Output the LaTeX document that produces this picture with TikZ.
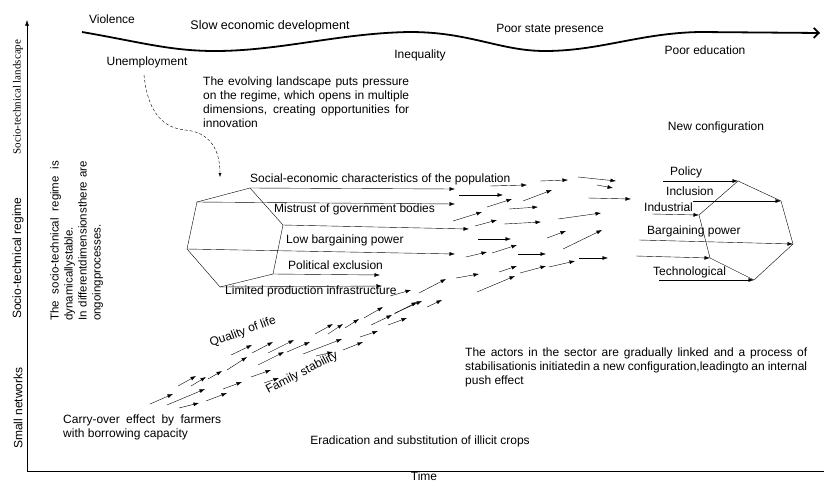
\documentclass[tikz,border=0pt]{standalone}
\usepackage{fontspec}
\setmainfont{Liberation Sans}
\newfontfamily\serifside{Liberation Serif}
\usetikzlibrary{arrows.meta,positioning}

\begin{document}
\begin{tikzpicture}[x=1pt,y=-1pt,
txt/.style={font=\fontsize{12}{14}\selectfont, inner sep=0pt},
para/.style={txt, align=justify, text width=#1},
flow/.style={arrows={-Latex[length=5.5pt,width=3.8pt]}},
sidelabel/.style={txt, rotate=90}]
\useasboundingbox (0,0) rectangle (824,482);
% Axes
\coordinate (origin) at (27,471);
\coordinate (ytop) at (27,20);
\coordinate (xend) at (824,471);
\draw[flow] (origin) -- (ytop);
\draw (origin) -- (xend);
\node[txt] (time) at (424,476) {Time};
\node[sidelabel, font=\serifside\fontsize{11}{13}\selectfont] (landscape) at (18,97) {Socio-technical landscape};
\node[sidelabel] (regime) at (18,258) {Socio-technical regime};
\node[sidelabel] (small) at (18,408) {Small networks};
\node[txt, font=\fontsize{11.5}{14}\selectfont, align=left, text width=160pt, rotate=90, anchor=north west] (stable) at (50,321)
  {The\hfill socio-technical\hfill regime\hfill is\\ dynamicallystable.\\ In differentdimensionsthere are\\ ongoingprocesses.};
% Landscape
\draw[line width=1.8pt, -{Straight Barb[length=5pt,width=10pt]}]
  (82,32) .. controls (140,42) and (170,51) .. (215,51)
  .. controls (280,51) and (340,33) .. (410,32)
  .. controls (470,32) and (500,51) .. (545,51)
  .. controls (600,51) and (640,33) .. (700,32) -- (820,33);
\node[txt] (violence) at (112,19) {Violence};
\node[txt, font=\fontsize{12.5}{14}\selectfont] (slow) at (270,26) {Slow economic development};
\node[txt] (unemp) at (147,62) {Unemployment};
\node[txt] (inequality) at (420,55) {Inequality};
\node[txt] (state) at (550,30) {Poor state presence};
\node[txt] (education) at (705,50) {Poor education};
\node[txt] (newconf) at (716,127) {New configuration};
\node[para=206pt, anchor=north west] (pressure) at (203,77)
  {The evolving landscape puts pressure\linebreak on the regime, which opens in multiple\linebreak dimensions, creating opportunities for\linebreak innovation};
\coordinate (press) at (220,177);
\draw[densely dashed, -{Latex[length=4pt,width=3pt]}] (144,75)
  .. controls (148,115) and (165,128) .. (185,130)
  .. controls (210,132) and (220,150) .. (press);
% Regime
\coordinate (r1) at (250,188);
\coordinate (r2) at (283,225);
\coordinate (r3) at (273,274);
\coordinate (r4) at (220,287);
\coordinate (r5) at (187,249);
\coordinate (r6) at (197,202);
\draw (r1) -- (r2) -- (r3) -- (r4) -- (r5) -- (r6) -- cycle;
\coordinate (e1) at (455,189);
\coordinate (e2) at (455,204);
\coordinate (e3) at (469,229);
\coordinate (e4) at (455,254);
\coordinate (e5) at (380,275);
\coordinate (e6) at (382,286);
\draw[flow] (r1) -- (e1);
\draw[flow] (r6) -- (e2);
\draw[flow] (r2) -- (e3);
\draw[flow] (r5) -- (e4);
\draw[flow] (r3) -- (e5);
\draw[flow] (r4) -- (e6);
\node[txt, anchor=west] (socio) at (250,179) {Social-economic characteristics of the population};
\node[txt, anchor=west] (mistrust) at (274,209) {Mistrust of government bodies};
\node[txt, anchor=west] (lowbp) at (286,240) {Low bargaining power};
\node[txt, anchor=west] (political) at (288,265) {Political exclusion};
\node[txt, anchor=west] (limited) at (225,291) {Limited production infrastructure};
% New configuration
\coordinate (c1) at (738,181);
\coordinate (c2) at (781,201);
\coordinate (c3) at (793,244);
\coordinate (c4) at (754,280);
\coordinate (c5) at (710,258);
\coordinate (c6) at (699,215);
\draw (c1) -- (c2) -- (c3) -- (c4) -- (c5) -- (c6) -- cycle;
\coordinate (s1) at (663,181);
\coordinate (s2) at (693,201);
\coordinate (s3) at (652,214);
\coordinate (s4) at (639,240);
\coordinate (s5) at (636,256);
\coordinate (s6) at (659,280);
\draw[flow] (s1) -- (c1);
\draw[flow] (s2) -- (c2);
\draw[flow] (s3) -- (c6);
\draw[flow] (s4) -- (c3);
\draw[flow] (s5) -- (c5);
\draw[flow] (s6) -- (c4);
\node[txt, anchor=west] (policy) at (670,172) {Policy};
\node[txt, anchor=west] (inclusion) at (666,191) {Inclusion};
\node[txt, anchor=west] (industrial) at (644,207) {Industrial};
\node[txt, anchor=west] (bargaining) at (647,231) {Bargaining power};
\node[txt, anchor=west] (techno) at (653,272) {Technological};
% Small networks
\foreach \xa/\ya/\xb/\yb in {150/404/173/394, 167/405/205/389, 179/408/199/403,
  206/401/227/393, 178/386/196/376, 191/386/206/377, 208/379/222/371,
  223/389/242/382, 227/370/247/357, 231/355/252/345, 252/353/273/342,
  268/353/294/340, 287/352/310/342, 258/365/284/352, 251/377/271/370,
  264/383/279/378, 303/354/342/339, 316/356/333/352, 343/350/363/342,
  360/337/378/331, 315/334/333/324, 328/334/343/324, 345/328/359/319,
  364/318/383/307, 371/325/392/315, 388/325/407/318, 394/314/417/302,
  390/296/411/290, 395/313/422/301, 419/293/446/279, 427/307/442/300,
  456/278/479/274, 477/292/515/276, 499/272/517/266, 520/273/546/266,
  549/267/575/261, 579/258/608/258, 466/257/487/252, 492/253/517/245,
  518/254/546/254, 547/238/566/231, 563/249/602/230, 478/239/511/239,
  453/221/482/212, 475/226/497/220, 504/224/541/222, 558/219/601/213,
  487/207/512/199, 509/209/538/207, 523/201/552/190, 459/195/503/195,
  490/186/527/185, 540/181/568/180, 578/177/616/181, 597/185/613/188,
  588/198/631/199}
  \draw[flow] (\xa,\ya) -- (\xb,\yb);
\node[txt, rotate=20] (quality) at (243,332) {Quality of life};
\node[txt, rotate=27] (family) at (302,373) {Family stability};
\node[para=158pt, anchor=north west] (carry) at (63,415)
  {Carry-over effect by farmers with borrowing capacity};
\node[txt] (eradication) at (420,441) {Eradication and substitution of illicit crops};
\node[para=342pt, anchor=north west] (actors) at (465,348)
  {The actors in the sector are gradually linked and a process of stabilisationis initiatedin a new configuration,leadingto an internal push effect};
\end{tikzpicture}
\end{document}
